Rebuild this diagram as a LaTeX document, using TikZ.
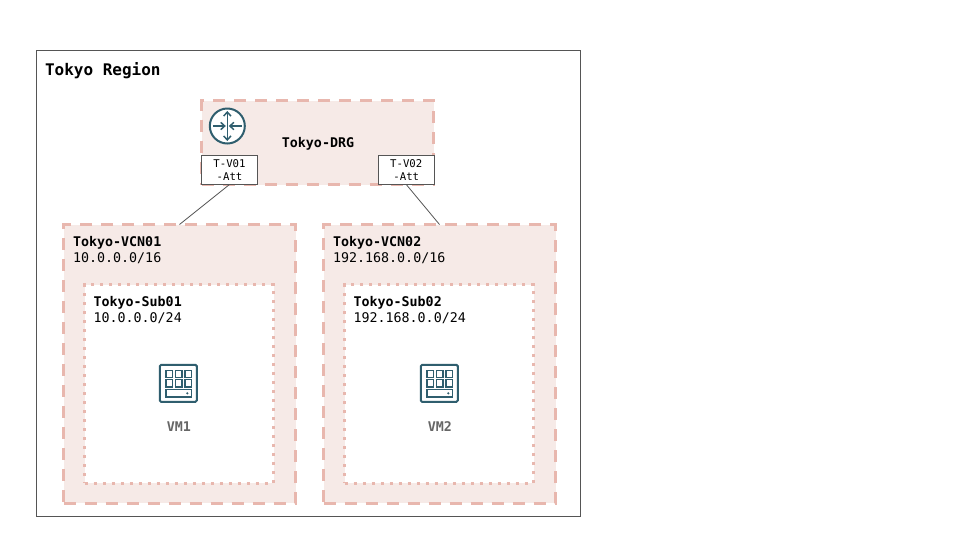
\documentclass[tikz,border=0pt]{standalone}
\usepackage{fontspec}
\usetikzlibrary{arrows.meta}
\setmainfont{DejaVu Sans Mono}
\definecolor{peach}{HTML}{F6EAE7}
\definecolor{dashc}{HTML}{E8B7AE}
\definecolor{teal1}{HTML}{2F5E6E}
\definecolor{edge}{HTML}{555555}
\tikzset{
  x=0.75pt,y=-0.75pt,
  every node/.style={inner sep=0pt,outer sep=0pt,font=\fontsize{10}{12}\selectfont},
  region/.style={draw=edge,line width=0.75pt,fill=white},
  dashbox/.style={draw=dashc,line width=2.25pt,fill=peach,dash pattern=on 9pt off 6.75pt},
  dotbox/.style={draw=dashc,line width=2.25pt,fill=white,dash pattern=on 2.25pt off 4.5pt},
  attbox/.style={draw=edge,line width=0.75pt,fill=white,align=center,font=\fontsize{8}{10.2}\selectfont},
  lbl/.style={anchor=north west,align=left},
  conn/.style={draw=edge,line width=0.6pt},
  icon/.style={draw=teal1,line width=1.5pt},
  iconthin/.style={draw=teal1,line width=1.1pt},
  barb/.style={iconthin,arrows={-{Straight Barb[length=3pt,width=5.5pt]}}},
}
\newcommand{\rectnode}[7]{% name style x1 y1 x2 y2 text
  \node[#2,minimum width={(#5-#3)*0.75pt},minimum height={(#6-#4)*0.75pt},anchor=north west] (#1) at (#3,#4) {#7};}
\begin{document}
\begin{tikzpicture}
\useasboundingbox (0,0) rectangle (960,540);
\rectnode{region}{region}{36.5}{50.5}{580.5}{516.5}{}
\node[lbl,font=\fontsize{12}{14}\bfseries\selectfont] (regionlabel) at (45,62.5) {Tokyo Region};

\rectnode{drg}{dashbox}{201.5}{100.5}{433.5}{184.5}{}
\node[font=\fontsize{10}{12}\bfseries\selectfont] (drglabel) at (318,144) {Tokyo-DRG};
\rectnode{att1}{attbox}{201.5}{155.5}{257.5}{184.5}{T-V01\\-Att}
\rectnode{att2}{attbox}{378.5}{155.5}{434}{184.5}{T-V02\\-Att}

\rectnode{vcn1}{dashbox}{63.5}{224.5}{295.5}{503}{}
\rectnode{vcn2}{dashbox}{323.5}{224.5}{555.5}{503}{}
\rectnode{sub1}{dotbox}{84.5}{284.5}{273.5}{483}{}
\rectnode{sub2}{dotbox}{344.5}{284.5}{533.5}{483}{}

\node[lbl] (vcn1label) at (73,236.5) {\textbf{Tokyo-VCN01}\\10.0.0.0/16};
\node[lbl] (vcn2label) at (333,236.5) {\textbf{Tokyo-VCN02}\\192.168.0.0/16};
\node[lbl] (sub1label) at (93.5,296) {\textbf{Tokyo-Sub01}\\10.0.0.0/24};
\node[lbl] (sub2label) at (353.5,296) {\textbf{Tokyo-Sub02}\\192.168.0.0/24};

\draw[conn] (att1.south) -- (vcn1.north);
\draw[conn] (att2.south) -- (vcn2.north);

% router icon
\begin{scope}[shift={(227.3,126)}]
  \draw[icon,fill=white] (0,0) circle[radius=17.5];
  \draw[barb] (0,0) -- (0,-15);
  \draw[barb] (0,0) -- (0,15);
  \draw[barb] (-14.5,0) -- (-1.5,0);
  \draw[barb] (14.5,0) -- (1.5,0);
\end{scope}

% server icons
\foreach \cx in {178.3,439.3}{
\begin{scope}[shift={(\cx,383.3)}]
  \draw[icon,fill=white,rounded corners=1pt] (-18.5,-18.5) rectangle (18.5,18.5);
  \foreach \px in {-12.5,-3,6.5}{
    \foreach \py in {-13,-3.7}{
      \draw[iconthin] (\px,\py) rectangle ++(6.5,7.3);
    }
  }
  \draw[iconthin] (-12.5,6.3) rectangle (13,13.5);
  \fill[teal1] (9,10) circle[radius=1.2];
\end{scope}
}
\node[font=\fontsize{10}{12}\bfseries\selectfont,text=black!60] (vm1) at (178.8,427) {VM1};
\node[font=\fontsize{10}{12}\bfseries\selectfont,text=black!60] (vm2) at (439.8,427) {VM2};
\end{tikzpicture}
\end{document}
